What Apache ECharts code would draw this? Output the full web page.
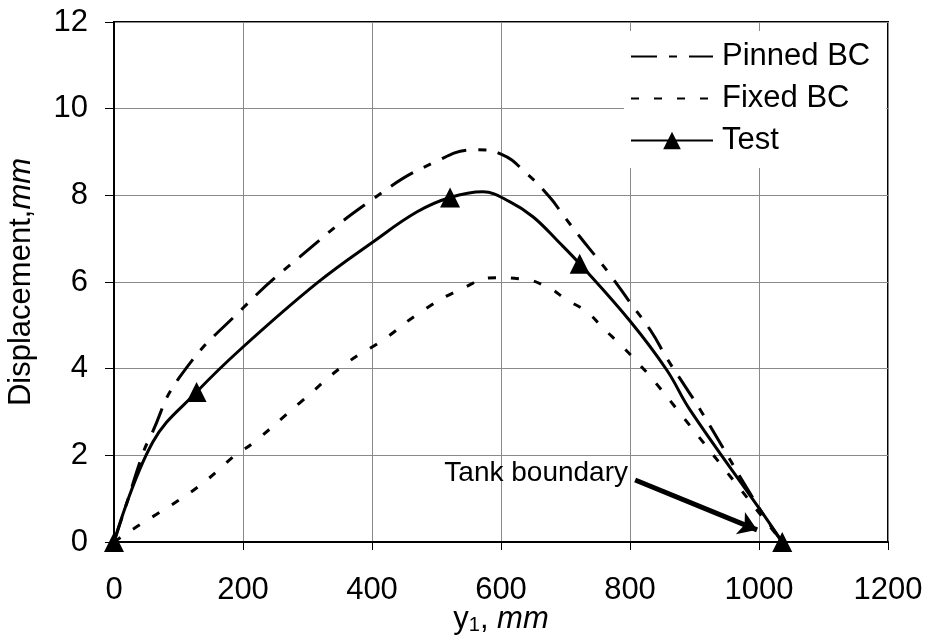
<!DOCTYPE html>
<html><head><meta charset="utf-8">
<script src="https://cdn.jsdelivr.net/npm/echarts@6/dist/echarts.min.js"></script>
<style>html,body{margin:0;padding:0;background:#fff}#c{width:931px;height:641px}</style>
</head><body><div id="c"></div>
<script>
// Data
const seriesNames = ['Pinned BC', 'Fixed BC', 'Test'];

const pinnedX = [0, 22, 45, 56, 102, 200, 288, 402, 495, 565, 600, 640, 676, 696, 722, 749, 769, 800, 832, 858, 886, 911, 1002, 1036];
const pinnedY = [0, 1.0, 2.05, 2.42, 3.81, 5.4, 6.58, 7.92, 8.75, 9.05, 8.95, 8.5, 7.95, 7.55, 7.05, 6.55, 6.17, 5.53, 4.88, 4.22, 3.58, 3.0, 0.74, 0];

const fixedX = [0, 35, 66, 99, 130, 159, 187, 216, 288, 361, 417, 474, 536, 593, 632, 671, 702, 733, 758, 789, 815, 836, 882, 1036];
const fixedY = [0, 0.35, 0.64, 0.95, 1.27, 1.62, 1.99, 2.29, 3.21, 4.13, 4.66, 5.29, 5.82, 6.1, 6.07, 5.89, 5.59, 5.31, 4.94, 4.5, 4.09, 3.74, 2.89, 0];

const testX = [0, 60, 128, 200, 315, 402, 470, 521, 572, 614, 650, 691, 722, 800, 857, 893, 1002, 1036];
const testY = [0, 2.3, 3.46, 4.5, 5.98, 6.93, 7.62, 7.95, 8.08, 7.85, 7.5, 6.9, 6.42, 5.1, 3.97, 3.05, 0.74, 0];
const testMarkerX = [0, 128, 521, 722, 1036];

const arrowStart = [808, 1.43];
const arrowEnd = [997, 0.28];
const annotationText = 'Tank boundary';

const FONT = '"Liberation Sans", Arial, sans-serif';
const FS = 31;
const pairs = (xs, ys) => xs.map((x, i) => [x, ys[i]]);

const testData = testX.map((x, i) => testMarkerX.includes(x)
  ? { value: [x, testY[i]] }
  : { value: [x, testY[i]], symbol: 'none' });

const hiddenIcon = { color: 'rgba(0,0,0,0)', borderWidth: 0 };

const chart = echarts.init(document.getElementById('c'), null, { renderer: 'canvas' });
chart.setOption({
  animation: false,
  backgroundColor: '#fff',
  textStyle: { fontFamily: FONT, color: '#000' },
  grid: { left: 114, top: 22, right: 43, bottom: 99, show: true, borderColor: '#000', borderWidth: 2,
    containLabel: false, outerBoundsMode: 'none' },
  legend: {
    data: [
      { name: seriesNames[0], itemStyle: hiddenIcon },
      { name: seriesNames[1], itemStyle: hiddenIcon },
      { name: seriesNames[2] }
    ],
    orient: 'vertical',
    left: 624, top: 31,
    padding: [10, 16, 12, 6],
    backgroundColor: '#fff',
    itemWidth: 82, itemHeight: 22, itemGap: 11,
    textStyle: { fontSize: FS, fontFamily: FONT, color: '#000', lineHeight: 31, padding: [0, 0, 0, 4] }
  },
  xAxis: {
    type: 'value', min: 0, max: 1200, interval: 200,
    name: '{a|y}{s|1}{a|, }{b|mm}', nameLocation: 'middle', nameGap: 62, nameMoveOverlap: false,
    nameTextStyle: { rich: {
      a: { fontSize: FS, fontFamily: FONT, color: '#000' },
      s: { fontSize: 20, fontFamily: FONT, color: '#000', verticalAlign: 'bottom', padding: [10, 0, 0, 0] },
      b: { fontSize: FS, fontFamily: FONT, color: '#000', fontStyle: 'italic' } } },
    axisLine: { show: true, lineStyle: { color: '#000', width: 2 } },
    axisTick: { show: true, length: 8, lineStyle: { color: '#000', width: 1 } },
    axisLabel: { fontSize: FS, fontFamily: FONT, color: '#000', margin: 33, formatter: v => String(v) },
    splitLine: { show: true, lineStyle: { color: '#8a8a8a', width: 1 } }
  },
  yAxis: {
    type: 'value', min: 0, max: 12, interval: 2,
    name: '{a|Displacement,}{b|mm}', nameLocation: 'middle', nameGap: 77, nameRotate: 90, nameMoveOverlap: false,
    nameTextStyle: { rich: {
      a: { fontSize: FS, fontFamily: FONT, color: '#000' },
      b: { fontSize: FS, fontFamily: FONT, color: '#000', fontStyle: 'italic' } } },
    axisLine: { show: true, lineStyle: { color: '#000', width: 2 } },
    axisTick: { show: true, length: 9, lineStyle: { color: '#000', width: 1 } },
    axisLabel: { fontSize: FS, fontFamily: FONT, color: '#000', margin: 26, formatter: v => String(v) },
    splitLine: { show: true, lineStyle: { color: '#8a8a8a', width: 1 } }
  },
  series: [
    {
      name: 'Pinned BC', type: 'line', smooth: 0.5, symbol: 'none', clip: false,
      data: pairs(pinnedX, pinnedY),
      lineStyle: { color: '#000', width: 3, type: [26, 12, 8, 12] },
      itemStyle: { color: '#000' },
      markLine: {
        silent: true, symbol: ['none', 'arrow'], symbolSize: 18,
        lineStyle: { color: '#000', width: 5, type: 'solid' },
        label: { show: false },
        data: [[{ coord: arrowStart }, { coord: arrowEnd }]]
      }
    },
    {
      name: 'Fixed BC', type: 'line', smooth: 0.5, symbol: 'none', clip: false,
      data: pairs(fixedX, fixedY),
      lineStyle: { color: '#000', width: 3, type: [8, 15] },
      itemStyle: { color: '#000' }
    },
    {
      name: 'Test', type: 'line', smooth: 0.4, symbol: 'triangle', symbolSize: 20, showAllSymbol: true, clip: false,
      data: testData,
      lineStyle: { color: '#000', width: 3, type: 'solid' },
      itemStyle: { color: '#000' }
    }
  ],
  graphic: [{
    type: 'text', x: 628, y: 473, z: 100,
    style: { text: annotationText, fontSize: 28, fontFamily: FONT, fill: '#000',
      align: 'right', verticalAlign: 'middle', textAlign: 'right', textVerticalAlign: 'middle' }
  }]
});
</script></body></html>
